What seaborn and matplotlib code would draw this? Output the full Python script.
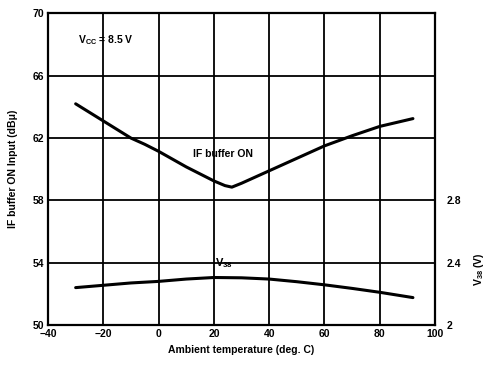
import matplotlib
matplotlib.use("Agg")
import matplotlib.pyplot as plt
import seaborn as sns
import pandas as pd

# IF buffer ON input (dBu) vs ambient temperature
if_temp = [-30, -25, -20, -15, -10, -5, 0, 5, 10, 15, 20, 24, 26.5, 30, 40, 50, 60, 70, 80, 92]
if_level = [64.2, 63.65, 63.1, 62.55, 62.0, 61.6, 61.15, 60.65, 60.15, 59.7, 59.25, 58.95, 58.85, 59.1, 59.9, 60.7, 61.5, 62.15, 62.75, 63.25]

# V38 (V) vs ambient temperature
v_temp = [-30, -10, 0, 10, 20, 30, 40, 50, 60, 70, 80, 92]
v_level = [2.24, 2.27, 2.28, 2.295, 2.305, 2.303, 2.295, 2.278, 2.258, 2.235, 2.21, 2.176]

x_ticks = [-40, -20, 0, 20, 40, 60, 80, 100]
x_labels = ["\u221240", "\u221220", "0", "20", "40", "60", "80", "100"]
yl_ticks = [50, 54, 58, 62, 66, 70]
yr_ticks = [2, 2.4, 2.8]
yr_labels = ["2", "2.4", "2.8"]

sns.set_style("white")
plt.rcParams["font.family"] = ["Liberation Sans", "DejaVu Sans"]
plt.rcParams["font.weight"] = "bold"
plt.rcParams["text.color"] = "black"
plt.rcParams["axes.labelcolor"] = "black"
plt.rcParams["xtick.color"] = "black"
plt.rcParams["ytick.color"] = "black"
plt.rcParams["mathtext.fontset"] = "custom"
plt.rcParams["mathtext.rm"] = "Liberation Sans:bold"
plt.rcParams["mathtext.bf"] = "Liberation Sans:bold"
plt.rcParams["mathtext.it"] = "Liberation Sans:bold"
plt.rcParams["mathtext.default"] = "bf"

fig = plt.figure(figsize=(4.85, 3.7), dpi=100)
ax = fig.add_axes([0.099, 0.1216, 0.798, 0.842])

df_if = pd.DataFrame({"t": if_temp, "v": if_level})
df_v = pd.DataFrame({"t": v_temp, "v": v_level})

sns.lineplot(data=df_if, x="t", y="v", ax=ax, color="black", lw=2.2, sort=True)
ax.set_xlim(-40, 100)
ax.set_ylim(50, 70)
ax.set_xticks(x_ticks)
ax.set_xticklabels(x_labels)
ax.set_yticks(yl_ticks)
ax.grid(True, color="black", lw=1.3)
ax.tick_params(length=0, labelsize=7.5, pad=3)
for s in ax.spines.values():
    s.set_color("black")
    s.set_linewidth(1.6)
ax.set_xlabel("Ambient temperature (deg. C)", fontsize=7.5, fontweight="bold", labelpad=4)
ax.set_ylabel("IF buffer ON Input (dB\u03bc)", fontsize=7.5, fontweight="bold", labelpad=10)

ax2 = ax.twinx()
sns.lineplot(data=df_v, x="t", y="v", ax=ax2, color="black", lw=2.2, sort=True)
ax2.set_ylim(2, 4)
ax2.set_yticks(yr_ticks)
ax2.set_yticklabels(yr_labels)
ax2.tick_params(length=0, labelsize=7.5, pad=8)
ax2.set_ylabel("V$_{38}$ (V)", fontsize=7.5, fontweight="bold")
ax2.yaxis.set_label_coords(1.095, 0.18)
for s in ax2.spines.values():
    s.set_visible(False)

ax.text(-29, 68.3, "V$_{CC}$ = 8.5 V", fontsize=7.5, fontweight="bold", va="center")
ax.text(12.5, 61.0, "IF buffer ON", fontsize=7.5, fontweight="bold", va="center")
ax.text(20.5, 54.0, "V$_{38}$", fontsize=8, fontweight="bold", va="center")

fig.savefig("out.png", dpi=100)
